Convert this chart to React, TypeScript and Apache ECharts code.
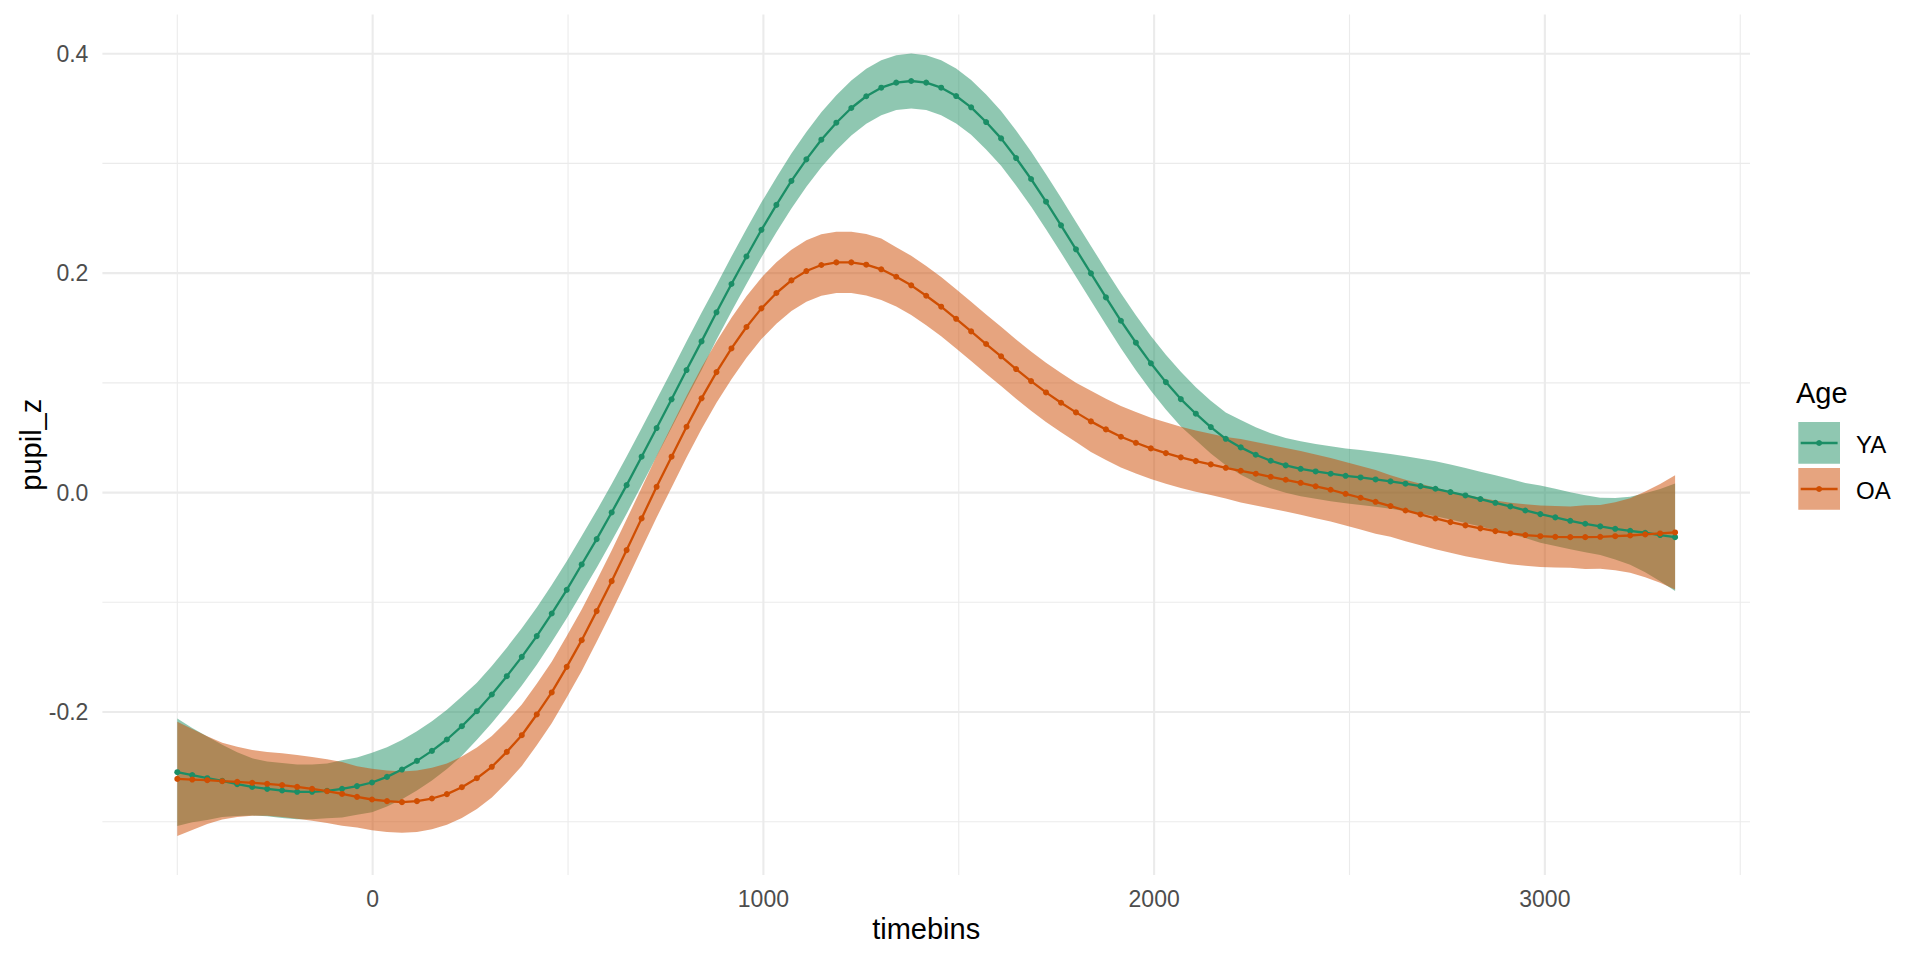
import React, { useEffect, useRef } from "react";
import * as echarts from "echarts";

const TIMEBINS = [
  -500, -461.7, -423.3, -385, -346.7, -308.3, -270, -231.7, -193.3, -155,
  -116.7, -78.3, -40, -1.7, 36.7, 75, 113.3, 151.7, 190, 228.3,
  266.7, 305, 343.3, 381.7, 420, 458.3, 496.7, 535, 573.3, 611.7,
  650, 688.3, 726.7, 765, 803.3, 841.7, 880, 918.3, 956.7, 995,
  1033.3, 1071.7, 1110, 1148.3, 1186.7, 1225, 1263.3, 1301.7, 1340, 1378.3,
  1416.7, 1455, 1493.3, 1531.7, 1570, 1608.3, 1646.7, 1685, 1723.3, 1761.7,
  1800, 1838.3, 1876.7, 1915, 1953.3, 1991.7, 2030, 2068.3, 2106.7, 2145,
  2183.3, 2221.7, 2260, 2298.3, 2336.7, 2375, 2413.3, 2451.7, 2490, 2528.3,
  2566.7, 2605, 2643.3, 2681.7, 2720, 2758.3, 2796.7, 2835, 2873.3, 2911.7,
  2950, 2988.3, 3026.7, 3065, 3103.3, 3141.7, 3180, 3218.3, 3256.7, 3295,
  3333.3,
];

const YA_FIT = [
  -0.2548, -0.2575, -0.2603, -0.2627, -0.2657, -0.2682, -0.27, -0.2715, -0.2727, -0.2727,
  -0.2718, -0.27, -0.2675, -0.2642, -0.2591, -0.2524, -0.2445, -0.2354, -0.225, -0.2129,
  -0.1992, -0.184, -0.1673, -0.1497, -0.1308, -0.1102, -0.0886, -0.0655, -0.0424, -0.0181,
  0.0068, 0.0327, 0.0588, 0.085, 0.1117, 0.1378, 0.1643, 0.1901, 0.2152, 0.2395,
  0.2622, 0.284, 0.3037, 0.3216, 0.3371, 0.3505, 0.3612, 0.369, 0.3736, 0.3751,
  0.3736, 0.369, 0.3614, 0.3511, 0.3377, 0.3228, 0.3049, 0.2858, 0.2651, 0.2436,
  0.2217, 0.1998, 0.1779, 0.1566, 0.1366, 0.1178, 0.1007, 0.0852, 0.0719, 0.0597,
  0.049, 0.0412, 0.0345, 0.029, 0.0248, 0.0217, 0.0193, 0.0172, 0.0153, 0.0138,
  0.012, 0.0102, 0.0081, 0.0059, 0.0035, 0.0005, -0.0026, -0.0059, -0.0093, -0.0126,
  -0.0163, -0.0196, -0.0226, -0.0257, -0.0284, -0.0308, -0.033, -0.0348, -0.0366, -0.0387,
  -0.0406,
];

const YA_SE = [
  0.049, 0.043, 0.038, 0.033, 0.029, 0.026, 0.025, 0.025, 0.025, 0.025,
  0.025, 0.026, 0.026, 0.027, 0.027, 0.027, 0.027, 0.027, 0.027, 0.027,
  0.026, 0.026, 0.026, 0.026, 0.026, 0.026, 0.026, 0.026, 0.026, 0.026,
  0.026, 0.026, 0.026, 0.026, 0.026, 0.026, 0.025, 0.025, 0.025, 0.025,
  0.025, 0.025, 0.025, 0.025, 0.025, 0.025, 0.025, 0.025, 0.025, 0.025,
  0.025, 0.025, 0.025, 0.025, 0.025, 0.025, 0.025, 0.025, 0.025, 0.025,
  0.025, 0.025, 0.025, 0.025, 0.025, 0.025, 0.025, 0.025, 0.024, 0.024,
  0.024, 0.025, 0.025, 0.025, 0.025, 0.025, 0.025, 0.025, 0.025, 0.025,
  0.025, 0.025, 0.025, 0.025, 0.025, 0.025, 0.025, 0.025, 0.025, 0.025,
  0.025, 0.026, 0.026, 0.026, 0.026, 0.026, 0.028, 0.031, 0.036, 0.042,
  0.049,
];

const OA_FIT = [
  -0.2609, -0.2615, -0.2621, -0.263, -0.2636, -0.2645, -0.2654, -0.2666, -0.2682, -0.27,
  -0.2721, -0.2746, -0.2773, -0.2797, -0.2812, -0.2821, -0.2812, -0.2788, -0.2748, -0.2685,
  -0.2603, -0.2499, -0.2363, -0.2211, -0.2022, -0.1821, -0.1588, -0.1345, -0.108, -0.0807,
  -0.0524, -0.0235, 0.0053, 0.0327, 0.06, 0.0859, 0.1098, 0.1314, 0.1509, 0.1679,
  0.1819, 0.1934, 0.2019, 0.2074, 0.2098, 0.2098, 0.2077, 0.2035, 0.1967, 0.1889,
  0.1794, 0.1694, 0.1584, 0.1469, 0.1354, 0.1242, 0.1126, 0.1016, 0.0913, 0.0819,
  0.0731, 0.0649, 0.0576, 0.0509, 0.0454, 0.0403, 0.036, 0.0321, 0.0287, 0.0257,
  0.0226, 0.0199, 0.0172, 0.0144, 0.0117, 0.0089, 0.0057, 0.0026, -0.0011, -0.0047,
  -0.0084, -0.0123, -0.0163, -0.0199, -0.0236, -0.0269, -0.0299, -0.0326, -0.0351, -0.0372,
  -0.0387, -0.0397, -0.0403, -0.0406, -0.0406, -0.0403, -0.0397, -0.0391, -0.0381, -0.0372,
  -0.0363,
];

const OA_SE = [
  0.052, 0.046, 0.04, 0.035, 0.032, 0.03, 0.029, 0.029, 0.029, 0.029,
  0.029, 0.029, 0.028, 0.028, 0.028, 0.028, 0.028, 0.028, 0.028, 0.028,
  0.028, 0.028, 0.028, 0.028, 0.028, 0.028, 0.028, 0.028, 0.028, 0.028,
  0.028, 0.028, 0.028, 0.028, 0.028, 0.028, 0.028, 0.028, 0.028, 0.028,
  0.028, 0.028, 0.028, 0.028, 0.028, 0.028, 0.028, 0.028, 0.027, 0.027,
  0.027, 0.027, 0.027, 0.027, 0.027, 0.027, 0.027, 0.027, 0.027, 0.027,
  0.027, 0.028, 0.028, 0.028, 0.028, 0.028, 0.028, 0.028, 0.028, 0.028,
  0.028, 0.029, 0.029, 0.029, 0.029, 0.029, 0.029, 0.029, 0.029, 0.029,
  0.029, 0.028, 0.028, 0.028, 0.028, 0.028, 0.028, 0.028, 0.028, 0.028,
  0.028, 0.028, 0.028, 0.028, 0.029, 0.029, 0.031, 0.034, 0.039, 0.045,
  0.052,
];

const X_MAJOR = [0, 1000, 2000, 3000];
const X_MINOR = [-500, 500, 1500, 2500, 3500];
const Y_MAJOR = [-0.2, 0, 0.2, 0.4];
const Y_MINOR = [-0.3, -0.1, 0.1, 0.3];
const X_RANGE = [-691.67, 3525];
const Y_RANGE = [-0.3485, 0.4358];

const GROUPS = ["YA", "OA"];
const LINE_COLORS = ["#1B8E66", "#CF4E02"];
const FILL_COLORS = ["rgba(31,143,99,0.5)", "rgba(205,73,0,0.5)"];

const FONT = "'Liberation Sans', Arial, Helvetica, sans-serif";
const GRID_COLOR = "#EBEBEB";

function ribbonSeries(fit: number[], se: number[], fill: string) {
  return {
    type: "custom",
    coordinateSystem: "cartesian2d",
    silent: true,
    z: 2,
    data: [[TIMEBINS[0], fit[0]]],
    encode: { x: 0, y: 1 },
    renderItem: (_params: any, api: any) => {
      const upper = TIMEBINS.map((t, i) => api.coord([t, fit[i] + se[i]]));
      const lower = TIMEBINS.map((t, i) => api.coord([t, fit[i] - se[i]])).reverse();
      return {
        type: "polygon",
        shape: { points: upper.concat(lower) },
        style: { fill },
      };
    },
  };
}

function vGridSeries(values: number[], width: number) {
  return {
    type: "custom",
    coordinateSystem: "cartesian2d",
    silent: true,
    z: 1,
    data: values.map((v) => [v, 0]),
    encode: { x: 0, y: 1 },
    renderItem: (params: any, api: any) => {
      const cs = params.coordSys;
      const x = api.coord([api.value(0), 0])[0];
      return {
        type: "line",
        shape: { x1: x, y1: cs.y, x2: x, y2: cs.y + cs.height },
        style: { stroke: GRID_COLOR, lineWidth: width },
      };
    },
  };
}

function hGridSeries(values: number[], width: number) {
  return {
    type: "custom",
    coordinateSystem: "cartesian2d",
    silent: true,
    z: 1,
    data: values.map((v) => [0, v]),
    encode: { x: 0, y: 1 },
    renderItem: (params: any, api: any) => {
      const cs = params.coordSys;
      const y = api.coord([0, api.value(1)])[1];
      return {
        type: "line",
        shape: { x1: cs.x, y1: y, x2: cs.x + cs.width, y2: y },
        style: { stroke: GRID_COLOR, lineWidth: width },
      };
    },
  };
}

function lineSeries(name: string, fit: number[], color: string) {
  return {
    type: "line",
    name,
    silent: true,
    z: 3,
    data: TIMEBINS.map((t, i) => [t, fit[i]]),
    symbol: "circle",
    symbolSize: 6,
    showSymbol: true,
    showAllSymbol: true,
    lineStyle: { width: 2.3, color },
    itemStyle: { color },
  };
}

export default function App() {
  const ref = useRef<HTMLDivElement>(null);

  useEffect(() => {
    if (!ref.current) return;
    const chart = echarts.init(ref.current, undefined, { renderer: "svg" });

    const legendItems: any[] = [
      {
        type: "text",
        x: 1796,
        y: 393,
        style: { text: "Age", fontSize: 29, fontFamily: FONT, fill: "#000000", align: "left", verticalAlign: "middle" },
      },
    ];
    GROUPS.forEach((g, k) => {
      const top = 422 + k * 46;
      const cy = top + 21;
      legendItems.push(
        { type: "rect", shape: { x: 1798.3, y: top, width: 41.7, height: 41.7 }, style: { fill: FILL_COLORS[k] } },
        { type: "line", shape: { x1: 1800.7, y1: cy, x2: 1837.6, y2: cy }, style: { stroke: LINE_COLORS[k], lineWidth: 2.3 } },
        { type: "circle", shape: { cx: 1819.1, cy, r: 3 }, style: { fill: LINE_COLORS[k] } },
        {
          type: "text",
          x: 1856,
          y: cy + 1,
          style: { text: g, fontSize: 24, fontFamily: FONT, fill: "#000000", align: "left", verticalAlign: "middle" },
        }
      );
    });

    chart.setOption({
      animation: false,
      backgroundColor: "#ffffff",
      textStyle: { fontFamily: FONT },
      grid: { left: 102.4, right: 170, top: 14.4, bottom: 85, containLabel: false },
      xAxis: {
        type: "value",
        min: X_RANGE[0],
        max: X_RANGE[1],
        axisLine: { show: false },
        axisTick: { show: false },
        splitLine: { show: false },
        axisLabel: {
          customValues: X_MAJOR,
          formatter: (v: number) => String(v),
          margin: 12,
          color: "#4D4D4D",
          fontSize: 23,
          fontFamily: FONT,
        },
      },
      yAxis: {
        type: "value",
        min: Y_RANGE[0],
        max: Y_RANGE[1],
        axisLine: { show: false },
        axisTick: { show: false },
        splitLine: { show: false },
        axisLabel: {
          customValues: Y_MAJOR,
          formatter: (v: number) => v.toFixed(1),
          margin: 14,
          color: "#4D4D4D",
          fontSize: 23,
          fontFamily: FONT,
        },
      },
      graphic: [
        {
          type: "text",
          x: 926.2,
          y: 929,
          style: { text: "timebins", fontSize: 29, fontFamily: FONT, fill: "#000000", align: "center", verticalAlign: "middle" },
        },
        {
          type: "text",
          x: 31,
          y: 444.7,
          rotation: Math.PI / 2,
          style: { text: "pupil_z", fontSize: 29, fontFamily: FONT, fill: "#000000", align: "center", verticalAlign: "middle" },
        },
        ...legendItems,
      ],
      series: [
        vGridSeries(X_MINOR, 1.1),
        hGridSeries(Y_MINOR, 1.1),
        vGridSeries(X_MAJOR, 2.1),
        hGridSeries(Y_MAJOR, 2.1),
        ribbonSeries(YA_FIT, YA_SE, FILL_COLORS[0]),
        ribbonSeries(OA_FIT, OA_SE, FILL_COLORS[1]),
        lineSeries(GROUPS[0], YA_FIT, LINE_COLORS[0]),
        lineSeries(GROUPS[1], OA_FIT, LINE_COLORS[1]),
      ],
    });

    return () => chart.dispose();
  }, []);

  return (
    <div
      ref={ref}
      style={{ position: "fixed", left: 0, top: 0, width: "1920px", height: "960px", background: "#ffffff" }}
    />
  );
}
